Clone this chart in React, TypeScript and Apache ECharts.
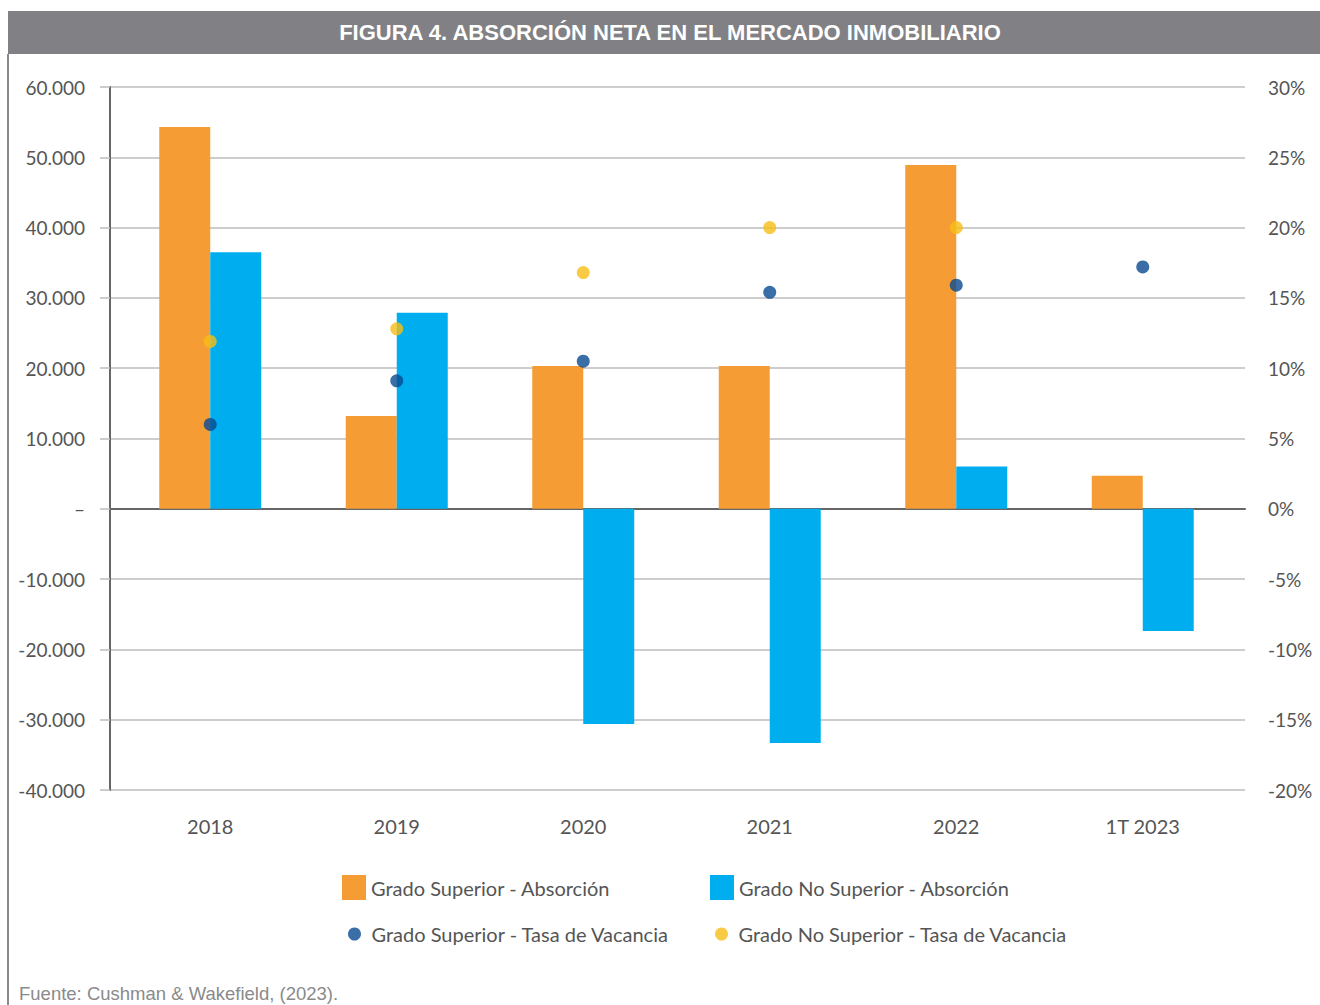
import React, { useEffect, useRef } from "react";
import * as echarts from "echarts";

const categories = ["2018", "2019", "2020", "2021", "2022", "1T 2023"];
const superiorAbsorcion = [54300, 13200, 20300, 20300, 48900, 4700];
const noSuperiorAbsorcion = [36500, 27900, -30600, -33300, 6000, -17400];
const superiorVacancia = [6.0, 9.1, 10.5, 15.4, 15.9, 17.2];
const noSuperiorVacancia: (number | null)[] = [11.9, 12.8, 16.8, 20.0, 20.0, null];

const seriesNames = [
  "Grado Superior - Absorción",
  "Grado No Superior - Absorción",
  "Grado Superior - Tasa de Vacancia",
  "Grado No Superior - Tasa de Vacancia",
];
const colors = ["#F59C34", "#00AEEF", "#084A91", "#F8BE15"];
const titleText = "FIGURA 4. ABSORCIÓN NETA EN EL MERCADO INMOBILIARIO";
const sourceText = "Fuente: Cushman & Wakefield, (2023).";

const fmtThousands = (v: number) => {
  if (v === 0) return "–";
  const s = String(Math.abs(v)).replace(/\B(?=(\d{3})+(?!\d))/g, ".");
  return (v < 0 ? "-" : "") + s;
};

const FONT = "Lato";
const LABEL_COLOR = "#555555";

export default function App() {
  const ref = useRef<HTMLDivElement>(null);
  useEffect(() => {
    if (!ref.current) return;
    const chart = echarts.init(ref.current, undefined, { renderer: "svg" });
    const legendCommon = {
      orient: "horizontal",
      padding: 0,
      itemGap: 0,
      textStyle: { color: LABEL_COLOR, fontSize: 20, fontFamily: FONT },
      selectedMode: false,
    };
    chart.setOption({
      animation: false,
      backgroundColor: "#ffffff",
      textStyle: { fontFamily: FONT },
      grid: [
        { left: 110, right: 75, top: 87, bottom: 215 },
        { left: 117, right: 84, top: 87, bottom: 215 },
      ],
      xAxis: [
        {
          type: "category",
          gridIndex: 0,
          data: categories,
          axisLine: { onZero: true, lineStyle: { color: "#666666", width: 2 } },
          axisTick: { show: false },
          axisLabel: { show: false },
          splitLine: { show: false },
        },
        {
          type: "category",
          gridIndex: 1,
          data: categories,
          axisLine: { show: false },
          axisTick: { show: false },
          axisLabel: { color: LABEL_COLOR, fontSize: 20, margin: 26, fontFamily: FONT },
          splitLine: { show: false },
        },
      ],
      yAxis: [
        {
          type: "value",
          gridIndex: 0,
          position: "left",
          min: -40000,
          max: 60000,
          interval: 10000,
          axisLine: { show: true, lineStyle: { color: "#666666", width: 2 } },
          axisTick: { show: true, length: 10, inside: false, lineStyle: { color: "#bdbdbd", width: 1.5 } },
          axisLabel: { formatter: fmtThousands, color: LABEL_COLOR, fontSize: 19, margin: 25, fontFamily: FONT, padding: [0, 0, 5, 0] },
          splitLine: { show: true, lineStyle: { color: "#bdbdbd", width: 1.5 } },
        },
        {
          type: "value",
          gridIndex: 0,
          position: "right",
          min: -20,
          max: 30,
          interval: 5,
          axisLine: { show: false },
          axisTick: { show: false },
          splitLine: { show: false },
          axisLabel: { formatter: "{value}%", color: LABEL_COLOR, fontSize: 19, margin: 23, fontFamily: FONT, padding: [0, 0, 5, 0] },
        },
        { type: "value", gridIndex: 1, min: -40000, max: 60000, interval: 10000, show: false },
        { type: "value", gridIndex: 1, min: -20, max: 30, interval: 5, show: false },
      ],
      legend: [
        { ...legendCommon, data: [{ name: seriesNames[0], icon: "rect" }], left: 342, top: 875, itemWidth: 24, itemHeight: 25 },
        { ...legendCommon, data: [{ name: seriesNames[1], icon: "rect" }], left: 710, top: 875, itemWidth: 24, itemHeight: 25 },
        { ...legendCommon, data: [{ name: seriesNames[2], icon: "circle" }], left: 348, top: 924, itemWidth: 24, itemHeight: 13 },
        { ...legendCommon, data: [{ name: seriesNames[3], icon: "circle" }], left: 715, top: 924, itemWidth: 24, itemHeight: 13 },
      ],
      series: [
        {
          name: seriesNames[0],
          type: "bar",
          xAxisIndex: 1,
          yAxisIndex: 2,
          data: superiorAbsorcion,
          barWidth: 51,
          barGap: "0%",
          itemStyle: { color: colors[0] },
        },
        {
          name: seriesNames[1],
          type: "bar",
          xAxisIndex: 1,
          yAxisIndex: 2,
          data: noSuperiorAbsorcion,
          barWidth: 51,
          barGap: "0%",
          itemStyle: { color: colors[1] },
        },
        {
          name: seriesNames[2],
          type: "scatter",
          xAxisIndex: 1,
          yAxisIndex: 3,
          data: superiorVacancia,
          symbol: "circle",
          symbolSize: 13,
          itemStyle: { color: colors[2] },
          z: 5,
        },
        {
          name: seriesNames[3],
          type: "scatter",
          xAxisIndex: 1,
          yAxisIndex: 3,
          data: noSuperiorVacancia,
          symbol: "circle",
          symbolSize: 13,
          itemStyle: { color: colors[3] },
          z: 5,
        },
      ],
      graphic: [
        {
          type: "rect",
          shape: { x: 8, y: 11, width: 1312, height: 43 },
          style: { fill: "#818185" },
          silent: true,
        },
        {
          type: "text",
          x: 670,
          y: 32,
          style: {
            text: titleText,
            fill: "#ffffff",
            font: "bold 22px 'Liberation Sans', Arial, sans-serif",
            textAlign: "center",
            textVerticalAlign: "middle",
          },
          silent: true,
        },
        {
          type: "line",
          shape: { x1: 8, y1: 54, x2: 8, y2: 1005 },
          style: { stroke: "#8a8a8e", lineWidth: 2 },
          silent: true,
        },
        {
          type: "text",
          x: 19,
          y: 993,
          style: {
            text: sourceText,
            fill: "#8a8a8a",
            font: "18.5px 'Liberation Sans', Arial, sans-serif",
            textAlign: "left",
            textVerticalAlign: "middle",
          },
          silent: true,
        },
      ],
    });
    return () => chart.dispose();
  }, []);
  return (
    <div
      ref={ref}
      style={{ position: "absolute", left: 0, top: 0, width: 1320, height: 1005, background: "#fff" }}
    />
  );
}
